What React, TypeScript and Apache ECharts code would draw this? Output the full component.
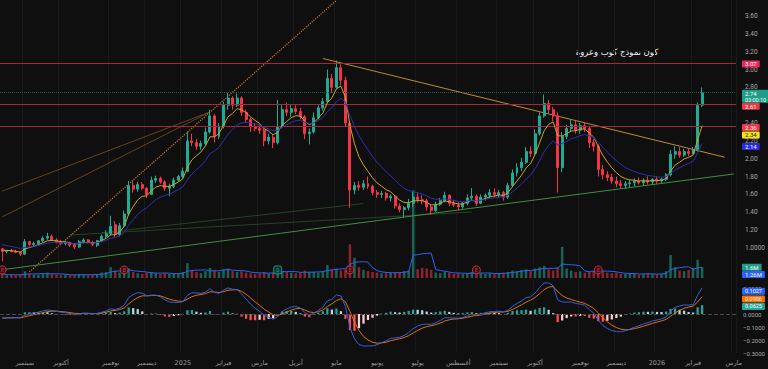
import { useEffect, useRef } from 'react';
import * as echarts from 'echarts';

// ---------- data (one candle ≈ 2.5 trading days) ----------
const opens = [
  0.99,0.96,0.97,0.96,0.95,0.93,1.07,1.04,1.05,1.08,
  1.11,1.13,1.09,1.07,1.05,1.06,1.03,1.01,1.07,1.09,
  1.06,1.03,1.08,1.13,1.16,1.26,1.15,1.25,1.38,1.70,
  1.66,1.71,1.67,1.60,1.76,1.78,1.74,1.67,1.69,1.76,
  1.80,1.86,2.20,2.18,2.14,2.17,2.30,2.48,2.25,2.36,
  2.60,2.68,2.60,2.68,2.52,2.44,2.36,2.34,2.32,2.20,
  2.24,2.18,2.36,2.55,2.52,2.56,2.53,2.47,2.28,2.30,
  2.46,2.57,2.64,2.90,2.80,3.02,2.88,2.40,1.65,1.70,
  1.68,1.72,1.69,1.62,1.60,1.61,1.56,1.58,1.47,1.43,
  1.45,1.50,1.57,1.54,1.53,1.46,1.42,1.49,1.53,1.59,
  1.50,1.48,1.46,1.50,1.56,1.58,1.50,1.57,1.59,1.62,
  1.60,1.62,1.57,1.70,1.84,1.90,1.96,2.08,2.06,2.28,
  2.48,2.62,2.55,2.48,1.90,2.25,2.34,2.38,2.32,2.37,
  2.34,2.18,2.14,1.88,1.82,1.79,1.75,1.72,1.70,1.72,
  1.73,1.75,1.73,1.76,1.74,1.77,1.75,1.77,1.82,2.05,
  2.08,2.04,2.08,2.06,2.10,2.60,
];
const closes = [
  0.96,0.97,0.96,0.95,0.93,1.07,1.04,1.05,1.08,1.11,
  1.13,1.09,1.07,1.05,1.06,1.03,1.01,1.07,1.09,1.06,
  1.04,1.08,1.13,1.16,1.24,1.15,1.25,1.38,1.70,1.66,
  1.71,1.67,1.60,1.76,1.78,1.74,1.67,1.69,1.76,1.80,
  1.86,2.20,2.18,2.14,2.17,2.30,2.48,2.25,2.36,2.60,
  2.68,2.60,2.68,2.52,2.44,2.36,2.34,2.32,2.20,2.24,
  2.18,2.36,2.55,2.52,2.56,2.53,2.47,2.28,2.30,2.46,
  2.57,2.64,2.90,2.80,3.02,2.88,2.40,1.65,1.70,1.68,
  1.72,1.69,1.62,1.60,1.61,1.56,1.58,1.47,1.43,1.45,
  1.50,1.57,1.54,1.53,1.46,1.42,1.49,1.53,1.59,1.50,
  1.48,1.46,1.50,1.56,1.58,1.50,1.57,1.59,1.62,1.60,
  1.62,1.57,1.70,1.84,1.90,1.96,2.08,2.06,2.28,2.48,
  2.62,2.55,2.48,1.90,2.25,2.34,2.38,2.32,2.37,2.34,
  2.18,2.14,1.88,1.82,1.79,1.75,1.72,1.70,1.72,1.73,
  1.75,1.73,1.76,1.74,1.77,1.75,1.77,1.82,2.05,2.08,
  2.04,2.08,2.06,2.10,2.60,2.74,
];
const highs = [
  1.00,0.98,0.99,0.98,0.96,1.10,1.08,1.07,1.09,1.13,
  1.17,1.15,1.11,1.09,1.08,1.07,1.05,1.09,1.11,1.10,
  1.08,1.09,1.15,1.20,1.36,1.30,1.28,1.42,1.75,1.76,
  1.74,1.74,1.68,1.80,1.81,1.80,1.76,1.72,1.79,1.82,
  1.90,2.30,2.28,2.22,2.20,2.35,2.55,2.50,2.40,2.64,
  2.74,2.70,2.73,2.70,2.55,2.46,2.40,2.38,2.34,2.28,
  2.27,2.66,2.60,2.63,2.60,2.60,2.57,2.49,2.34,2.52,
  2.60,2.68,3.00,2.95,3.10,3.06,2.92,2.42,1.74,1.75,
  1.76,1.80,1.71,1.65,1.64,1.63,1.60,1.59,1.50,1.47,
  1.55,1.63,1.62,1.59,1.55,1.48,1.52,1.56,1.63,1.60,
  1.54,1.51,1.52,1.60,1.67,1.60,1.60,1.61,1.66,1.67,
  1.65,1.64,1.73,1.88,1.95,2.01,2.13,2.14,2.33,2.52,
  2.72,2.66,2.58,2.52,2.30,2.38,2.44,2.43,2.40,2.41,
  2.36,2.22,2.16,1.93,1.86,1.83,1.80,1.76,1.75,1.76,
  1.78,1.79,1.78,1.80,1.78,1.80,1.79,1.84,2.10,2.14,
  2.13,2.11,2.12,2.13,2.63,2.80,
];
const lows = [
  0.85,0.94,0.95,0.94,0.91,0.92,1.02,1.02,1.03,1.06,
  1.09,1.08,1.05,1.03,1.03,1.01,0.99,1.00,1.05,1.05,
  1.02,1.01,1.07,1.11,1.14,1.12,1.13,1.23,1.36,1.62,
  1.63,1.65,1.56,1.59,1.73,1.72,1.64,1.58,1.67,1.74,
  1.78,1.85,2.14,2.10,2.10,2.15,2.28,2.18,2.22,2.34,
  2.55,2.55,2.58,2.48,2.40,2.30,2.31,2.28,2.14,2.16,
  2.12,2.16,2.34,2.48,2.47,2.50,2.44,2.22,2.16,2.28,
  2.44,2.54,2.62,2.74,2.78,2.82,2.36,1.45,1.60,1.64,
  1.65,1.66,1.59,1.56,1.56,1.53,1.52,1.44,1.40,1.34,
  1.42,1.46,1.51,1.49,1.42,1.37,1.40,1.47,1.51,1.47,
  1.46,1.42,1.44,1.48,1.53,1.47,1.49,1.53,1.56,1.57,
  1.56,1.53,1.55,1.68,1.80,1.86,1.94,2.02,2.04,2.26,
  2.46,2.50,2.42,1.62,1.85,2.22,2.30,2.28,2.28,2.30,
  2.12,2.08,1.80,1.77,1.75,1.72,1.68,1.67,1.66,1.68,
  1.69,1.71,1.70,1.71,1.71,1.72,1.73,1.75,1.80,2.00,
  2.01,2.02,2.03,2.05,2.08,2.58,
];
// volume in millions
const volumes = [
  0.6,0.4,0.5,0.4,0.5,1.0,0.6,0.5,0.5,0.7,
  0.8,0.6,0.5,0.4,0.5,0.4,0.5,0.6,0.5,0.4,
  0.5,0.6,0.8,0.9,1.6,1.1,0.8,1.2,1.4,0.9,
  0.7,0.6,0.8,0.9,0.7,0.6,0.7,0.6,0.7,0.6,
  0.9,2.2,1.2,0.9,0.7,1.0,1.5,1.2,0.9,1.3,
  1.4,1.0,0.9,1.0,0.8,0.7,0.6,0.7,0.9,0.7,
  0.8,1.3,1.0,0.9,0.8,0.7,0.8,1.1,0.9,0.9,
  0.8,1.0,1.9,1.3,1.4,1.1,1.2,5.0,3.0,1.6,
  1.2,1.0,0.9,0.8,0.7,0.7,0.8,0.9,0.9,1.0,
  1.1,13.0,1.3,1.5,1.4,1.2,0.8,0.7,0.9,0.8,
  0.6,0.7,0.6,0.7,0.9,0.8,0.7,0.6,0.7,0.6,
  0.7,0.8,0.9,1.1,1.0,1.2,1.3,1.0,1.4,1.6,
  1.8,1.3,1.1,1.6,4.6,1.4,1.1,0.9,1.0,0.8,
  0.9,1.1,1.3,1.0,0.8,0.7,0.8,0.6,0.6,0.7,
  0.6,0.5,0.6,0.7,0.6,0.5,0.6,1.0,3.4,1.6,
  1.1,1.0,1.2,1.5,2.7,1.6,
];

const slotCount = 163;
const monthTicks: [number, string][] = [
  [5, 'سبتمبر'], [13, 'أكتوبر'], [24, 'نوفمبر'], [32, 'ديسمبر'], [40, '2025'],
  [49, 'فبراير'], [57, 'مارس'], [65, 'أبريل'], [74, 'مايو'], [83, 'يونيو'],
  [92, 'يوليو'], [101, 'أغسطس'], [110, 'سبتمبر'], [118, 'أكتوبر'], [128, 'نوفمبر'],
  [136, 'ديسمبر'], [145, '2026'], [153, 'فبراير'], [162, 'مارس'],
];
// axis ticks hidden behind value tags in the reference
const coveredPriceTicks = [2.6];
const coveredMacdTicks = [0.1];
const priceLevels = [3.07, 2.61, 2.36];
const lastPrice = 2.74;
const countdown = '03:00:10';
const fastMaLabel = 2.34;
const slowMaLabel = 2.14;
const volumeLastLabel = 1.6;
const volumeMaLabel = 1.26;
const macdLabel = 0.1027;
const signalLabel = 0.0906;
const histLabel = 0.0625;
const earningsSlots = [0, 27, 77, 105, 132];
const dividendSlots = [61];
const chartTitle = 'كون نموذج كوب وعروة';

// drawn trend lines: [slot, price] end points
const steepDotted = [[6, 0.731], [74, 3.774]];
const fanUpper = [[0, 1.637], [46, 2.524]];
const fanLower = [[0, 1.348], [46, 2.524]];
const triangleTop = [[71, 3.124], [160, 2.017]];
const triangleBottom = [[0, 0.756], [162, 1.829]];
const faintA = [[22, 1.17], [80, 1.497]];
const faintB = [[15, 1.145], [104, 1.403]];

// ---------- helpers ----------
function ema(src: number[], periodDays: number, seed: number, slotDays = 2.5) {
  const a = 2 / (periodDays / slotDays + 1);
  let p = seed;
  return src.map((v) => (p = p + a * (v - p)));
}
function sma(src: number[], w: number) {
  return src.map((_, i) => {
    const s = src.slice(Math.max(0, i - w + 1), i + 1);
    return s.reduce((t, v) => t + v, 0) / s.length;
  });
}
const isCovered = (v: number, list: number[]) => list.some((c) => Math.abs(c - v) < 1e-6);

const UP = '#22ab94';
const DOWN = '#f23645';
const FONT = 'Roboto, "DejaVu Sans", sans-serif';
const AR_FONT = '"DejaVu Sans", "Noto Sans", sans-serif';
const CLEAR = { color: 'rgba(0,0,0,0)', width: 1, type: 'solid' };

export default function App() {
  const ref = useRef<HTMLDivElement>(null);
  useEffect(() => {
    document.body.style.margin = '0';
    document.body.style.background = '#0f0f0f';
    if (!ref.current) return;
    const chart = echarts.init(ref.current, undefined, { renderer: 'svg' });

    const cats = Array.from({ length: slotCount }, (_, i) => String(i));
    const monthMap = new Map<number, string>(monthTicks);

    const yellow = ema(closes, 14, 0.98);
    const blue = ema(closes, 30, 1.05);
    const fast = ema(closes, 12, 1.0, 2.1);
    const slow = ema(closes, 26, 1.03, 2.1);
    const macd = fast.map((v, i) => v - slow[i]);
    const signal = ema(macd, 9, -0.03, 2.1);
    const hist = macd.map((v, i) => v - signal[i]);
    const volMa = sma(volumes, 5);

    const histData = hist.map((h, i) => {
      const prev = i > 0 ? hist[i - 1] : h;
      const color = h >= 0 ? (h >= prev ? '#26a69a' : '#b2dfdb') : (h < prev ? '#ff5252' : '#ffcdd2');
      return { value: h, itemStyle: { color } };
    });
    const volData = volumes.map((v, i) => ({
      value: v,
      itemStyle: { color: closes[i] >= opens[i] ? 'rgba(34,171,148,0.55)' : 'rgba(242,54,69,0.55)' },
    }));

    const tag = (text: string, bg: string, fg = '#ffffff', dy = 0, extra: any = {}) => ({
      show: true,
      position: 'end',
      distance: 6,
      formatter: text,
      backgroundColor: bg,
      color: fg,
      fontSize: 6,
      lineHeight: 6,
      fontFamily: FONT,
      padding: [1, 3, 0, 3],
      borderRadius: 1,
      offset: [0, dy],
      ...extra,
    });

    const xAxisFor = (gi: number) => ({
      type: 'category',
      gridIndex: gi,
      data: cats,
      boundaryGap: true,
      axisLine: { show: false },
      axisTick: { show: false },
      axisLabel: gi === 2
        ? {
            show: true,
            interval: (i: number) => monthMap.has(i),
            formatter: (_v: string, i: number) => monthMap.get(i) ?? '',
            color: '#9a9a9a',
            fontSize: 6.5,
            fontFamily: AR_FONT,
            margin: 6,
          }
        : { show: false },
      splitLine: gi === 1
        ? { show: false }
        : { show: true, interval: (i: number) => monthMap.has(i), lineStyle: { color: '#191919', width: 1 } },
    });

    const trend = (pts: number[][], color: string, type = 'solid', width = 1) => ({
      type: 'line',
      xAxisIndex: 0,
      yAxisIndex: 0,
      data: pts,
      symbol: 'none',
      silent: true,
      z: 3,
      lineStyle: { color, width, type },
    });

    const option: any = {
      animation: false,
      backgroundColor: '#0f0f0f',
      textStyle: { fontFamily: FONT },
      grid: [
        { left: 0, right: 32, top: -1.84, height: 285.44, outerBoundsMode: 'none' },
        { left: 0, right: 32, top: 170, height: 108, outerBoundsMode: 'none' },
        { left: 0, right: 32, top: 275, height: 78, outerBoundsMode: 'none' },
      ],
      xAxis: [xAxisFor(0), xAxisFor(1), xAxisFor(2)],
      yAxis: [
        {
          type: 'value', gridIndex: 0, position: 'right', min: 0.6, max: 3.8, interval: 0.2,
          axisLine: { show: false }, axisTick: { show: false }, splitLine: { show: false },
          axisLabel: {
            color: '#a8a8a8', fontSize: 6.5, margin: 9, fontFamily: FONT,
            formatter: (v: number) =>
              v > 3.7 || v < 0.95 || isCovered(v, coveredPriceTicks)
                ? ''
                : Math.abs(v - 1) < 1e-6 ? '1.0000' : v.toFixed(2),
          },
        },
        { type: 'value', gridIndex: 1, min: 0, max: 16, show: false },
        {
          type: 'value', gridIndex: 2, position: 'right', min: -0.3, max: 0.3, interval: 0.1,
          axisLine: { show: false }, axisTick: { show: false }, splitLine: { show: false },
          axisLabel: {
            color: '#a8a8a8', fontSize: 6, margin: 7, fontFamily: FONT,
            formatter: (v: number) =>
              v > 0.25 || isCovered(v, coveredMacdTicks)
                ? ''
                : (v < -1e-6 ? '\u2212' : '') + Math.abs(v).toFixed(4),
          },
        },
      ],
      graphic: [
        {
          type: 'text', x: 617, y: 52, silent: true,
          style: {
            text: chartTitle, fill: '#f2f2f2', fontSize: 8.5, fontWeight: 'normal', fontFamily: AR_FONT,
            align: 'center', verticalAlign: 'middle', textAlign: 'center', textVerticalAlign: 'middle',
          },
        },
      ],
      series: [
        trend(faintA, 'rgba(70,125,70,0.45)'),
        trend(faintB, 'rgba(70,125,70,0.45)'),
        trend(fanUpper, 'rgba(170,110,40,0.55)'),
        trend(fanLower, 'rgba(170,110,40,0.55)'),
        trend(steepDotted, '#c47a2c', 'dotted', 1.2),
        trend(triangleTop, '#c08a34'),
        trend(triangleBottom, '#3f8f43'),
        {
          type: 'candlestick',
          xAxisIndex: 0, yAxisIndex: 0, z: 4,
          data: opens.map((o, i) => [o, closes[i], lows[i], highs[i]]),
          barWidth: '55%',
          itemStyle: { color: UP, color0: DOWN, borderColor: UP, borderColor0: DOWN, borderWidth: 1 },
          markLine: {
            symbol: ['none', 'none'], silent: true, animation: false,
            data: [
              { yAxis: priceLevels[0], lineStyle: { color: '#a3283c', width: 1, type: 'solid' }, label: tag(priceLevels[0].toFixed(2), '#e8285e', '#fff', 0.7) },
              { yAxis: priceLevels[1], lineStyle: { color: '#a3283c', width: 1, type: 'solid' }, label: tag(priceLevels[1].toFixed(2), DOWN, '#fff', 2) },
              { yAxis: priceLevels[2], lineStyle: { color: '#a3283c', width: 1, type: 'solid' }, label: tag(priceLevels[2].toFixed(2), DOWN, '#fff', 1) },
              {
                yAxis: lastPrice, lineStyle: { color: '#1d5a50', width: 1, type: 'dotted' },
                label: tag('', '#1e9e86', '#fff', 3.6, {
                  formatter: `{a|${lastPrice.toFixed(2)}}\n{b|${countdown}}`,
                  rich: {
                    a: { fontSize: 6, color: '#ffffff', fontFamily: FONT, lineHeight: 6 },
                    b: { fontSize: 5.5, color: '#e8fff9', fontFamily: FONT, lineHeight: 6 },
                  },
                }),
              },
            ],
          },
        },
        {
          type: 'line', xAxisIndex: 0, yAxisIndex: 0, z: 5, data: yellow, symbol: 'none', silent: true,
          lineStyle: { color: '#c9a42a', width: 1 },
          markLine: {
            symbol: ['none', 'none'], silent: true,
            data: [{ yAxis: fastMaLabel, lineStyle: CLEAR, label: tag(fastMaLabel.toFixed(2), '#f5e61c', '#111', 6.6) }],
          },
        },
        {
          type: 'line', xAxisIndex: 0, yAxisIndex: 0, z: 5, data: blue, symbol: 'none', silent: true,
          lineStyle: { color: '#2f2fb4', width: 1 },
          markLine: {
            symbol: ['none', 'none'], silent: true,
            data: [{ yAxis: slowMaLabel, lineStyle: CLEAR, label: tag(slowMaLabel.toFixed(2), '#2a2ae0', '#fff', 0.3) }],
          },
        },
        {
          type: 'bar', xAxisIndex: 1, yAxisIndex: 1, data: volData, barWidth: '55%', silent: true, z: 2,
          markLine: {
            symbol: ['none', 'none'], silent: true,
            data: [
              { yAxis: volumeLastLabel, lineStyle: CLEAR, label: tag('1.6M', '#1e9e86', '#fff', 0) },
              { yAxis: volumeMaLabel, lineStyle: CLEAR, label: tag('1.26M', '#2962ff', '#fff', 5) },
            ],
          },
        },
        {
          type: 'line', xAxisIndex: 1, yAxisIndex: 1, data: volMa, symbol: 'none', silent: true, z: 3,
          lineStyle: { color: '#2962ff', width: 1 },
        },
        {
          type: 'scatter', xAxisIndex: 1, yAxisIndex: 1, silent: true, z: 6,
          data: earningsSlots.map((s) => [s, 1.2]),
          symbol: 'circle', symbolSize: 8,
          itemStyle: { color: '#3a1016', borderColor: '#f23645', borderWidth: 1 },
          label: { show: true, formatter: 'E', color: '#f23645', fontSize: 5.5, position: 'inside' },
        },
        {
          type: 'scatter', xAxisIndex: 1, yAxisIndex: 1, silent: true, z: 6,
          data: dividendSlots.map((s) => [s, 1.2]),
          symbol: 'roundRect', symbolSize: 8,
          itemStyle: { color: '#0f3a33', borderColor: '#22ab94', borderWidth: 1 },
          label: { show: true, formatter: 'D', color: '#22ab94', fontSize: 5.5, position: 'inside' },
        },
        {
          type: 'bar', xAxisIndex: 2, yAxisIndex: 2, data: histData, barWidth: '50%', silent: true,
          markLine: {
            symbol: ['none', 'none'], silent: true,
            data: [
              { yAxis: 0, lineStyle: { color: '#4a4a4a', width: 1, type: 'dashed' }, label: { show: false } },
              { yAxis: histLabel, lineStyle: CLEAR, label: tag(histLabel.toFixed(4), '#26a69a', '#fff', 0.2, { fontSize: 5.5 }) },
            ],
          },
        },
        {
          type: 'line', xAxisIndex: 2, yAxisIndex: 2, data: signal, symbol: 'none', silent: true,
          lineStyle: { color: '#e0710f', width: 1 },
          markLine: {
            symbol: ['none', 'none'], silent: true,
            data: [{ yAxis: signalLabel, lineStyle: CLEAR, label: tag(signalLabel.toFixed(4), '#ff6d00', '#fff', -3.3, { fontSize: 5.5 }) }],
          },
        },
        {
          type: 'line', xAxisIndex: 2, yAxisIndex: 2, data: macd, symbol: 'none', silent: true,
          lineStyle: { color: '#2f62e0', width: 1 },
          markLine: {
            symbol: ['none', 'none'], silent: true,
            data: [{ yAxis: macdLabel, lineStyle: CLEAR, label: tag(macdLabel.toFixed(4), '#2962ff', '#fff', -9.8, { fontSize: 5.5 }) }],
          },
        },
      ],
    };

    chart.setOption(option);
    return () => chart.dispose();
  }, []);

  return <div ref={ref} style={{ width: 768, height: 369, background: '#0f0f0f' }} />;
}
